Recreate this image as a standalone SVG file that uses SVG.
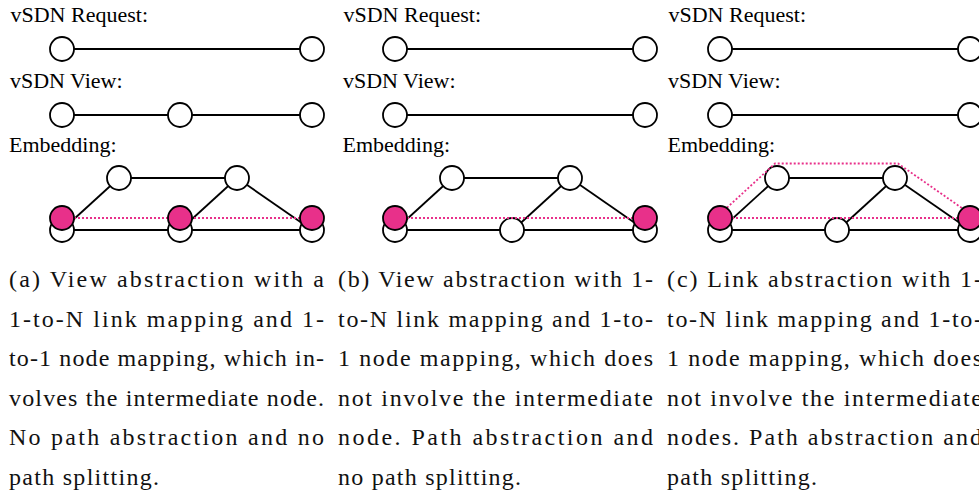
<svg xmlns="http://www.w3.org/2000/svg" width="979" height="495" viewBox="0 0 979 495">
  <style>
    .lbl { font-family: 'Liberation Serif', 'Times New Roman', 'DejaVu Serif', serif; font-size: 22px; fill: #000; }
    .cap { font-family: 'Liberation Serif', 'Times New Roman', 'DejaVu Serif', serif; font-size: 24px; fill: #111; }
    .edge { stroke: #000; stroke-width: 1.8; fill: none; }
    .map { stroke: #E8308A; stroke-width: 1.8; stroke-dasharray: 2 2; fill: none; }
    .node { fill: #fff; stroke: #000; stroke-width: 1.8; }
    .vnode { fill: #E8308A; stroke: #000; stroke-width: 1.8; }
  </style>
  <rect width="979" height="495" fill="#fff"/>

  <!-- Panel (a): view abstraction, intermediate node involved -->
  <g id="panel-a">
    <text class="lbl" font-family="Liberation Serif, serif" x="10.5" y="22">vSDN Request:</text>
    <text class="lbl" font-family="Liberation Serif, serif" x="10" y="88">vSDN View:</text>
    <text class="lbl" font-family="Liberation Serif, serif" x="9" y="152">Embedding:</text>
    <g id="a-connectors">
      <line class="edge" x1="62" y1="49" x2="312" y2="49"/>
      <line class="edge" x1="62" y1="115" x2="312" y2="115"/>
      <line class="edge" x1="119" y1="178" x2="237" y2="178"/>
      <line class="edge" x1="62" y1="230" x2="119" y2="178"/>
      <line class="edge" x1="62" y1="230" x2="312" y2="230"/>
      <line class="edge" x1="180" y1="230" x2="237" y2="178"/>
      <line class="edge" x1="237" y1="178" x2="312" y2="230"/>
    </g>
    <g id="a-req-1"><circle class="node" cx="62" cy="49" r="12"/></g>
    <g id="a-req-2"><circle class="node" cx="312" cy="49" r="12"/></g>
    <g id="a-view-1"><circle class="node" cx="62" cy="115" r="12"/></g>
    <g id="a-view-2"><circle class="node" cx="180" cy="115" r="12"/></g>
    <g id="a-view-3"><circle class="node" cx="312" cy="115" r="12"/></g>
    <g id="a-sub-t1"><circle class="node" cx="119" cy="178" r="12"/></g>
    <g id="a-sub-t2"><circle class="node" cx="237" cy="178" r="12"/></g>
    <g id="a-sub-b1"><circle class="node" cx="62" cy="230" r="12"/></g>
    <g id="a-sub-b2"><circle class="node" cx="180" cy="230" r="12"/></g>
    <g id="a-sub-b3"><circle class="node" cx="312" cy="230" r="12"/></g>
    <g id="a-mapping">
      <line class="map" x1="62" y1="218" x2="312" y2="218"/>
    </g>
    <g id="a-map-1"><circle class="vnode" cx="62" cy="218" r="12"/></g>
    <g id="a-map-2"><circle class="vnode" cx="180" cy="218" r="12"/></g>
    <g id="a-map-3"><circle class="vnode" cx="312" cy="218" r="12"/></g>
  </g>

  <!-- Panel (b): view abstraction, intermediate node hidden -->
  <g id="panel-b" transform="translate(333 0)">
    <text class="lbl" x="10.5" y="22">vSDN Request:</text>
    <text class="lbl" x="10" y="88">vSDN View:</text>
    <text class="lbl" x="9.5" y="152">Embedding:</text>
    <g id="b-connectors">
      <line class="edge" x1="62" y1="49" x2="312" y2="49"/>
      <line class="edge" x1="62" y1="115" x2="312" y2="115"/>
      <line class="edge" x1="119" y1="178" x2="237" y2="178"/>
      <line class="edge" x1="62" y1="230" x2="119" y2="178"/>
      <line class="edge" x1="62" y1="230" x2="312" y2="230"/>
      <line class="edge" x1="180" y1="230" x2="237" y2="178"/>
      <line class="edge" x1="237" y1="178" x2="312" y2="230"/>
    </g>
    <g id="b-req-1"><circle class="node" cx="62" cy="49" r="12"/></g>
    <g id="b-req-2"><circle class="node" cx="312" cy="49" r="12"/></g>
    <g id="b-view-1"><circle class="node" cx="62" cy="115" r="12"/></g>
    <g id="b-view-2"><circle class="node" cx="312" cy="115" r="12"/></g>
    <g id="b-sub-t1"><circle class="node" cx="119" cy="178" r="12"/></g>
    <g id="b-sub-t2"><circle class="node" cx="237" cy="178" r="12"/></g>
    <g id="b-sub-b1"><circle class="node" cx="62" cy="230" r="12"/></g>
    <g id="b-sub-b2"><circle class="node" cx="179" cy="230" r="12"/></g>
    <g id="b-sub-b3"><circle class="node" cx="312" cy="230" r="12"/></g>
    <g id="b-mapping">
      <line class="map" x1="62" y1="218" x2="312" y2="218"/>
    </g>
    <g id="b-map-1"><circle class="vnode" cx="62" cy="218" r="12"/></g>
    <g id="b-map-2"><circle class="vnode" cx="312" cy="218" r="12"/></g>
  </g>

  <!-- Panel (c): link abstraction with path splitting -->
  <g id="panel-c" transform="translate(658 0)">
    <text class="lbl" x="10.5" y="22">vSDN Request:</text>
    <text class="lbl" x="10" y="88">vSDN View:</text>
    <text class="lbl" x="9.5" y="152">Embedding:</text>
    <g id="c-connectors">
      <line class="edge" x1="62" y1="49" x2="312" y2="49"/>
      <line class="edge" x1="62" y1="115" x2="312" y2="115"/>
      <line class="edge" x1="119" y1="178" x2="237" y2="178"/>
      <line class="edge" x1="62" y1="230" x2="119" y2="178"/>
      <line class="edge" x1="62" y1="230" x2="312" y2="230"/>
      <line class="edge" x1="180" y1="230" x2="237" y2="178"/>
      <line class="edge" x1="237" y1="178" x2="312" y2="230"/>
    </g>
    <g id="c-req-1"><circle class="node" cx="62" cy="49" r="12"/></g>
    <g id="c-req-2"><circle class="node" cx="312" cy="49" r="12"/></g>
    <g id="c-view-1"><circle class="node" cx="62" cy="115" r="12"/></g>
    <g id="c-view-2"><circle class="node" cx="312" cy="115" r="12"/></g>
    <g id="c-sub-t1"><circle class="node" cx="119" cy="178" r="12"/></g>
    <g id="c-sub-t2"><circle class="node" cx="237" cy="178" r="12"/></g>
    <g id="c-sub-b1"><circle class="node" cx="62" cy="230" r="12"/></g>
    <g id="c-sub-b2"><circle class="node" cx="179" cy="230" r="12"/></g>
    <g id="c-sub-b3"><circle class="node" cx="312" cy="230" r="12"/></g>
    <g id="c-mapping">
      <line class="map" x1="62" y1="218" x2="312" y2="218"/>
      <polyline class="map" points="66,210.4 117,163.5 240,163.5 306,209.5"/>
    </g>
    <g id="c-map-1"><circle class="vnode" cx="62" cy="218" r="12"/></g>
    <g id="c-map-2"><circle class="vnode" cx="312" cy="218" r="12"/></g>
  </g>

  <!-- Sub-captions, justified to the column width -->
  <g id="captions" class="cap">
    <text x="9" y="287" textLength="315" lengthAdjust="spacing">(a) View abstraction with a</text>
    <text x="9" y="326.5" textLength="315" lengthAdjust="spacing">1-to-N link mapping and 1-</text>
    <text x="9" y="366" textLength="315" lengthAdjust="spacing">to-1 node mapping, which in-</text>
    <text x="9" y="405.5" textLength="315" lengthAdjust="spacing">volves the intermediate node.</text>
    <text x="9" y="445" textLength="315" lengthAdjust="spacing">No path abstraction and no</text>
    <text x="9" y="484.5" textLength="150" lengthAdjust="spacing">path splitting.</text>

    <text x="338" y="287" textLength="315" lengthAdjust="spacing">(b) View abstraction with 1-</text>
    <text x="338" y="326.5" textLength="315" lengthAdjust="spacing">to-N link mapping and 1-to-</text>
    <text x="338" y="366" textLength="315" lengthAdjust="spacing">1 node mapping, which does</text>
    <text x="338" y="405.5" textLength="315" lengthAdjust="spacing">not involve the intermediate</text>
    <text x="338" y="445" textLength="315" lengthAdjust="spacing">node. Path abstraction and</text>
    <text x="338" y="484.5" textLength="183" lengthAdjust="spacing">no path splitting.</text>

    <text x="667" y="287" textLength="315" lengthAdjust="spacing">(c) Link abstraction with 1-</text>
    <text x="667" y="326.5" textLength="315" lengthAdjust="spacing">to-N link mapping and 1-to-</text>
    <text x="667" y="366" textLength="315" lengthAdjust="spacing">1 node mapping, which does</text>
    <text x="667" y="405.5" textLength="315" lengthAdjust="spacing">not involve the intermediate</text>
    <text x="667" y="445" textLength="315" lengthAdjust="spacing">nodes. Path abstraction and</text>
    <text x="667" y="484.5" textLength="150" lengthAdjust="spacing">path splitting.</text>
  </g>
</svg>
